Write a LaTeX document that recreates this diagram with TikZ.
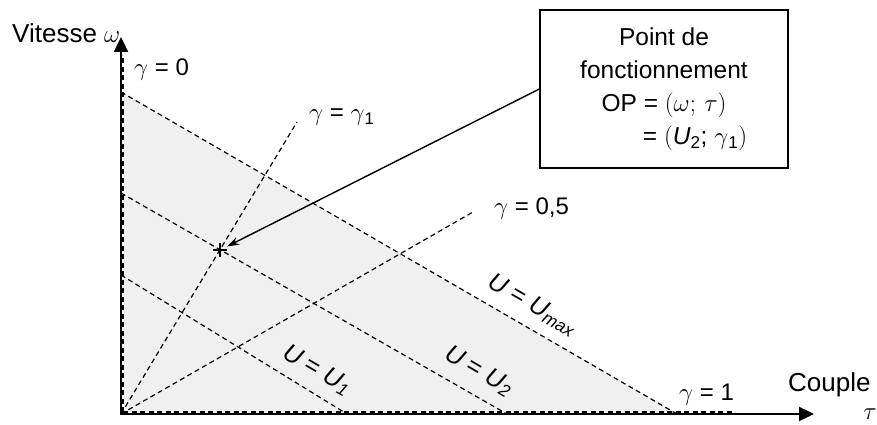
\documentclass[tikz,border=0pt]{standalone}
\usepackage{fontspec}
\setmainfont{Liberation Sans}
\usetikzlibrary{arrows.meta}
\begin{document}
\begin{tikzpicture}[x=1pt,y=-1pt,
  axis/.style={line width=2.4pt,-{Triangle[length=15pt,width=14pt]}},
  dline/.style={line width=1.2pt,dash pattern=on 5pt off 3.5pt},
  biglabel/.style={font=\fontsize{26}{30}\selectfont,inner sep=0pt},
  glabel/.style={font=\fontsize{24}{28}\selectfont,inner sep=0pt},
  ulabel/.style={font=\fontsize{25}{29}\selectfont,inner sep=0pt,rotate=-30},
  opbox/.style={draw,line width=1.3pt,minimum width=248pt,minimum height=158pt,align=center,font=\fontsize{24.5}{33}\selectfont,inner sep=0pt},
  pointer/.style={line width=1.4pt,-{Stealth[length=12pt,width=8pt]}},
]
\useasboundingbox (0,0) rectangle (877,425);
% key coordinates
\coordinate (O) at (121,414);
\coordinate (Ymax) at (121,92);
\coordinate (Xmax) at (677,414);
\coordinate (Y2) at (121,193);
\coordinate (X2) at (507,414);
\coordinate (Y1) at (121,275);
\coordinate (X1) at (347,414);
\coordinate (Gone) at (297,122);
\coordinate (Ghalf) at (473,212);
\coordinate (Od) at (123,412);
\coordinate (Gzero) at (123,55);
\coordinate (Gfull) at (735,412);
\coordinate (Ytip) at (121,37);
\coordinate (Xtip) at (814,414);
% shaded region
\fill[gray!12] (Ymax) -- (Xmax) -- (O) -- cycle;
% dashed lines
\draw[dline] (Od) -- (Gzero);
\draw[dline] (Od) -- (Gfull);
\draw[dline] (Ymax) -- (Xmax);
\draw[dline] (Y2) -- (X2);
\draw[dline] (Y1) -- (X1);
\draw[dline] (O) -- (Gone);
\draw[dline] (O) -- (Ghalf);
% axes
\draw[axis] (O) -- (Ytip);
\draw[axis] ([xshift=-1.2pt]O) -- (Xtip);
% operating point
\node[minimum size=14pt,inner sep=0pt] (op) at (220,250) {};
\draw[line width=2.6pt] (op.north) -- (op.south) (op.west) -- (op.east);
% box
\node[opbox] (box) at (664,89) {Point de\\fonctionnement\\OP = $(\omega;\,\tau)$\\\hspace*{62pt}= $($\textit{U}\textsubscript{2}; $\gamma$\textsubscript{1}$)$};
\draw[pointer] (box.west) -- (op);
% labels
\node[biglabel,anchor=base west] (vit) at (12,43) {Vitesse $\omega$};
\node[glabel,anchor=base west] (g0) at (134,76) {$\gamma$ = 0};
\node[glabel,anchor=base west] (g1) at (309,121) {$\gamma$ = $\gamma$\textsubscript{1}};
\node[glabel,anchor=base west] (g05) at (494,214) {$\gamma$ = 0,5};
\node[glabel,anchor=base west] (gfull) at (679,400) {$\gamma$ = 1};
\node[biglabel,anchor=base west] (cp) at (788,391) {Couple};
\node[biglabel] (tau) at (870,414) {$\tau$};
\node[ulabel] (umax) at (533,305) {\textit{U} = \textit{U}\textsubscript{\textit{max}}};
\node[ulabel] (u2) at (479,371) {\textit{U} = \textit{U}\textsubscript{\textit{2}}};
\node[ulabel] (u1) at (317,370) {\textit{U} = \textit{U}\textsubscript{\textit{1}}};
\end{tikzpicture}
\end{document}
